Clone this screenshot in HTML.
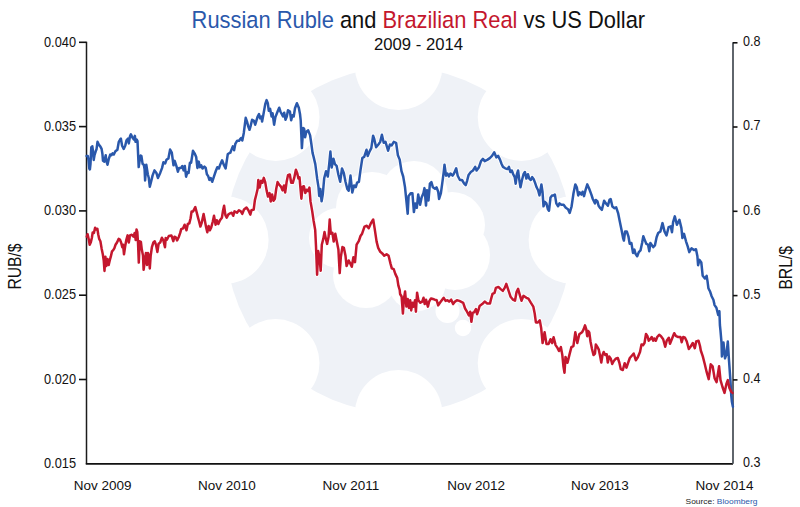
<!DOCTYPE html>
<html><head><meta charset="utf-8"><style>
html,body{margin:0;padding:0;background:#fff;}
svg{display:block;font-family:"Liberation Sans",sans-serif;}
</style></head><body>
<svg width="800" height="507" viewBox="0 0 800 507">
<rect width="800" height="507" fill="#fff"/>
<g id="logo">
<circle cx="398.6" cy="240" r="173" fill="#eff2f7"/>
<circle cx="398.6" cy="66.2" r="43.8" fill="#fff"/><circle cx="521.5" cy="117.1" r="43.8" fill="#fff"/><circle cx="572.4" cy="240.0" r="43.8" fill="#fff"/><circle cx="521.5" cy="362.9" r="43.8" fill="#fff"/><circle cx="398.6" cy="413.8" r="43.8" fill="#fff"/><circle cx="275.7" cy="362.9" r="43.8" fill="#fff"/><circle cx="224.8" cy="240.0" r="43.8" fill="#fff"/><circle cx="275.7" cy="117.1" r="43.8" fill="#fff"/>
<circle cx="339.0" cy="238.0" r="30.0" fill="#fff"/><circle cx="372.0" cy="208.0" r="36.0" fill="#fff"/><circle cx="414.0" cy="195.0" r="34.0" fill="#fff"/><circle cx="452.0" cy="225.0" r="33.0" fill="#fff"/><circle cx="455.0" cy="255.0" r="35.0" fill="#fff"/><circle cx="366.0" cy="275.0" r="33.0" fill="#fff"/><circle cx="417.0" cy="282.0" r="29.0" fill="#fff"/><circle cx="410.0" cy="240.0" r="45.0" fill="#fff"/><circle cx="447.5" cy="311.0" r="12.0" fill="#fff"/><circle cx="463.0" cy="328.0" r="8.2" fill="#fff"/>
</g>
<g fill="none" stroke-linejoin="round" stroke-linecap="round" stroke="#fff" stroke-width="4.5" opacity="0.9">
<path d="M86.6 156.0 L87.8 156.0 L88.5 160.0 L89.3 168.7 L89.9 169.4 L90.5 163.9 L91.3 147.4 L92.3 146.2 L92.9 150.5 L93.7 160.0 L94.5 155.2 L95.7 151.3 L96.5 149.3 L97.5 141.8 L98.8 144.6 L100.4 146.6 L101.6 148.9 L102.4 153.7 L103.0 160.8 L104.3 161.6 L105.7 155.2 L106.3 160.8 L107.5 164.7 L108.7 159.2 L110.3 154.5 L111.5 155.2 L112.6 153.3 L113.8 154.5 L115.4 151.3 L117.4 149.7 L118.8 141.8 L120.1 139.5 L120.9 138.7 L122.1 145.8 L123.7 148.9 L125.3 145.4 L126.5 140.3 L128.0 138.7 L128.8 143.4 L130.0 136.3 L130.9 134.3 L132.4 137.5 L133.9 139.5 L134.9 135.9 L135.5 141.8 L136.7 139.5 L137.5 141.1 L138.7 167.1 L139.5 161.6 L140.7 155.6 L141.4 156.0 L142.6 163.9 L143.8 164.7 L144.6 169.4 L145.1 180.5 L146.3 164.7 L147.8 174.2 L148.8 178.0 L149.8 186.8 L151.4 180.5 L152.6 175.4 L154.5 170.4 L156.4 172.9 L157.9 178.0 L160.2 172.9 L162.1 167.9 L163.4 162.2 L165.2 163.4 L166.5 159.7 L168.4 158.4 L170.1 149.6 L171.8 152.7 L173.5 165.3 L174.7 160.9 L176.6 166.6 L177.9 171.7 L179.1 167.9 L181.0 167.9 L182.3 166.0 L183.6 170.4 L184.8 166.0 L186.1 176.7 L187.3 172.3 L188.6 172.9 L189.9 162.8 L191.1 162.8 L193.0 150.8 L194.9 154.0 L196.2 157.1 L197.4 167.9 L198.7 161.6 L200.0 167.2 L201.2 165.3 L202.5 168.5 L204.4 166.6 L205.7 167.9 L206.9 174.2 L208.2 176.1 L209.4 179.9 L210.7 178.0 L212.2 181.8 L214.5 174.8 L215.8 171.0 L217.3 167.2 L218.9 168.5 L220.2 164.7 L222.1 160.3 L224.0 165.3 L225.6 168.5 L227.8 154.0 L230.3 152.7 L231.5 149.6 L232.8 146.4 L234.1 150.2 L235.3 143.9 L237.2 140.7 L239.1 140.7 L240.1 139.2 L241.3 138.0 L242.3 140.5 L243.8 132.9 L245.7 117.8 L247.0 121.6 L248.3 126.6 L249.5 129.8 L250.8 125.3 L252.1 119.7 L253.9 120.9 L255.2 124.7 L256.5 120.3 L257.7 116.5 L259.0 114.0 L260.2 118.4 L261.5 116.5 L262.1 121.6 L263.4 114.6 L265.3 103.9 L266.6 100.1 L267.8 103.2 L268.8 110.8 L270.1 108.9 L271.6 116.5 L272.6 113.3 L274.1 124.7 L275.4 117.1 L277.9 110.8 L279.2 107.7 L280.4 111.5 L281.7 114.0 L283.0 116.5 L284.2 112.7 L285.5 119.7 L286.8 116.5 L288.0 110.2 L289.9 111.5 L291.2 120.3 L292.4 115.2 L293.7 116.5 L295.0 108.3 L296.9 103.2 L298.8 107.7 L300.0 114.0 L300.7 120.3 L301.9 148.1 L303.2 127.9 L304.2 129.1 L305.1 137.3 L306.3 131.7 L308.2 130.4 L310.1 135.4 L311.4 144.3 L312.6 153.1 L313.6 156.9 L315.3 164.1 L317.1 178.2 L318.5 187.1 L319.2 196.0 L320.3 188.9 L321.6 201.3 L322.8 194.2 L324.2 178.2 L326.0 171.2 L327.8 176.5 L329.2 164.1 L330.4 151.6 L331.7 167.6 L333.4 158.7 L334.9 164.1 L336.6 165.8 L338.4 174.7 L340.2 181.8 L342.0 168.5 L343.8 172.9 L345.5 181.8 L347.3 188.9 L348.7 190.7 L350.5 175.6 L352.3 192.5 L354.1 185.4 L355.8 187.1 L357.1 182.7 L358.9 181.8 L360.6 169.4 L362.4 157.8 L364.2 156.9 L366.5 149.8 L367.7 156.1 L369.5 151.6 L371.3 148.1 L373.1 135.7 L374.3 139.2 L376.1 147.2 L378.4 144.5 L380.2 141.9 L381.9 134.8 L383.7 142.8 L385.5 141.9 L388.1 150.7 L389.9 144.5 L391.7 145.4 L393.8 141.9 L396.1 142.8 L397.9 155.2 L399.7 159.6 L401.5 171.2 L403.2 176.5 L405.0 187.1 L406.8 204.9 L407.7 213.8 L408.6 196.0 L410.0 194.2 L410.9 193.2 L412.4 193.2 L413.9 212.1 L415.3 203.4 L416.8 207.8 L418.2 194.6 L420.1 204.8 L421.6 197.5 L423.4 193.2 L424.5 188.1 L426.0 205.6 L427.0 190.2 L428.5 200.5 L429.9 183.7 L431.4 182.2 L432.9 187.3 L435.0 188.8 L436.5 187.3 L438.2 191.7 L439.1 199.0 L440.9 193.2 L442.3 182.9 L443.8 171.3 L444.5 164.7 L446.0 175.7 L447.4 173.5 L448.9 176.4 L450.4 173.5 L452.6 175.7 L454.0 173.5 L456.2 168.3 L457.7 175.7 L459.9 180.0 L462.0 180.0 L464.2 183.7 L465.7 185.1 L467.1 180.8 L468.6 174.9 L470.8 172.0 L473.0 170.5 L475.2 166.9 L476.6 170.5 L478.8 167.6 L481.0 161.1 L482.9 158.9 L484.7 161.1 L487.6 159.6 L489.8 158.1 L492.0 155.9 L494.2 152.3 L496.4 157.4 L498.1 155.9 L500.0 159.6 L501.6 164.0 L503.0 166.9 L505.2 168.3 L507.4 169.1 L508.9 166.9 L510.3 172.0 L511.8 170.5 L513.2 174.2 L514.7 177.1 L515.7 183.7 L516.9 174.2 L518.1 170.5 L519.1 178.6 L520.5 187.3 L522.0 180.0 L523.5 174.2 L524.9 172.0 L526.4 178.6 L527.9 174.2 L529.3 178.6 L530.8 180.0 L532.2 177.1 L533.7 179.3 L535.1 182.9 L536.6 187.3 L538.1 190.2 L539.5 195.4 L541.4 184.4 L542.5 191.7 L543.5 206.3 L544.9 201.9 L546.4 203.4 L547.9 209.2 L549.0 210.7 L550.5 197.5 L552.2 195.4 L553.7 195.4 L554.9 194.6 L556.3 203.4 L558.1 206.3 L559.5 203.4 L561.4 204.8 L563.6 204.8 L565.8 207.8 L568.0 209.2 L569.7 212.9 L571.6 206.3 L573.5 193.2 L575.3 184.4 L576.8 187.3 L578.2 195.4 L579.7 192.4 L581.4 194.6 L582.6 191.7 L584.0 196.1 L585.5 190.2 L587.3 184.4 L589.2 188.8 L591.4 194.6 L592.8 199.0 L595.0 203.4 L595.8 199.9 L597.5 201.5 L598.6 205.7 L600.3 208.2 L601.9 209.8 L604.1 200.7 L605.7 203.2 L607.9 205.7 L609.5 199.9 L610.7 199.1 L612.4 206.5 L614.5 208.2 L616.2 207.3 L618.1 213.1 L619.8 221.4 L621.5 229.7 L623.1 238.0 L623.9 240.5 L625.1 231.4 L626.8 231.4 L628.4 236.3 L629.7 243.8 L631.4 243.0 L633.0 252.9 L634.4 249.6 L635.5 253.7 L637.2 256.2 L638.8 252.1 L640.5 250.4 L642.1 243.0 L643.3 236.3 L644.6 239.6 L646.3 243.8 L648.0 244.6 L649.3 251.2 L650.4 243.0 L652.1 245.4 L653.2 247.1 L654.9 245.4 L656.6 237.2 L658.2 233.0 L660.4 231.4 L662.5 223.1 L664.5 231.4 L666.5 235.5 L668.6 227.2 L670.8 226.4 L672.0 232.2 L673.1 222.2 L674.8 216.4 L676.9 224.7 L679.4 219.8 L681.4 228.1 L682.4 238.0 L684.0 233.8 L686.0 241.3 L687.7 246.3 L689.3 252.1 L689.8 251.0 L691.5 248.3 L694.2 250.1 L696.0 249.2 L697.4 256.3 L698.1 265.2 L699.5 259.9 L701.3 262.5 L702.7 275.8 L704.9 278.5 L706.6 275.8 L707.5 281.1 L708.4 288.2 L710.2 291.8 L711.6 296.2 L713.4 299.8 L714.6 305.1 L716.4 307.8 L718.2 314.9 L719.4 311.3 L719.9 325.0 L720.5 330.8 L721.5 342.6 L721.9 356.4 L723.5 342.6 L725.0 358.4 L726.4 354.4 L727.8 341.6 L729.0 360.4 L730.4 380.1 L731.3 395.9 L731.9 401.8 L732.9 406.7"/>
<path d="M86.8 236.6 L87.6 234.2 L88.8 239.5 L89.7 244.8 L90.9 241.9 L91.9 237.8 L92.7 232.4 L93.9 233.0 L95.1 227.7 L96.2 229.5 L97.4 228.9 L98.2 234.2 L99.2 238.9 L100.4 241.3 L101.6 248.4 L102.8 254.3 L103.7 260.2 L104.5 270.9 L105.4 256.7 L106.3 266.1 L107.5 259.1 L108.7 265.0 L109.8 260.2 L110.8 256.7 L112.0 251.4 L113.2 250.2 L114.3 248.4 L115.5 244.8 L117.0 242.5 L118.7 238.9 L119.9 239.5 L121.1 242.5 L122.3 247.2 L123.1 244.8 L124.0 254.3 L125.2 246.0 L126.4 239.5 L127.6 235.4 L128.8 242.5 L130.0 235.4 L131.8 234.8 L133.5 236.6 L134.7 233.0 L135.7 240.1 L136.5 229.5 L137.3 231.8 L138.0 242.5 L138.8 262.6 L139.7 241.3 L140.9 241.9 L141.8 249.6 L143.0 255.5 L143.6 269.7 L144.8 261.4 L145.9 253.1 L147.1 265.0 L148.0 253.1 L148.9 255.5 L149.8 268.5 L150.7 255.5 L151.9 247.2 L153.4 242.5 L154.8 241.3 L156.0 244.8 L157.4 251.9 L158.6 243.7 L160.2 242.5 L161.9 237.8 L163.3 240.1 L165.0 247.2 L165.7 237.9 L166.9 239.8 L168.8 236.0 L171.4 235.4 L173.3 241.1 L174.5 236.7 L175.8 237.3 L177.1 240.4 L178.9 236.7 L180.2 232.9 L181.2 229.1 L183.0 228.4 L184.6 224.7 L186.5 230.3 L187.8 224.0 L189.3 223.4 L190.6 218.3 L191.6 211.4 L193.1 211.4 L195.3 207.0 L196.6 212.0 L197.9 217.1 L199.1 221.5 L200.4 226.6 L201.7 222.8 L203.6 213.9 L204.8 220.2 L206.1 227.2 L207.3 232.2 L208.6 225.9 L209.9 230.3 L211.1 227.8 L212.8 221.5 L214.0 215.8 L215.6 224.7 L216.8 220.2 L218.3 224.0 L220.0 220.2 L221.9 217.7 L223.1 210.2 L224.1 205.7 L225.4 215.2 L226.7 217.7 L228.2 214.6 L230.1 213.3 L231.7 212.7 L233.2 215.8 L234.5 211.4 L237.0 212.7 L238.9 210.2 L240.8 211.4 L242.3 213.9 L244.0 209.5 L246.5 207.6 L248.4 210.2 L250.3 214.6 L251.5 210.2 L253.7 209.5 L254.9 200.1 L256.2 195.0 L257.6 189.0 L258.3 180.0 L259.7 187.6 L261.1 180.7 L262.4 182.8 L263.8 177.9 L265.2 182.1 L266.6 190.4 L268.0 196.6 L269.6 193.1 L270.7 201.4 L272.1 194.5 L273.5 200.7 L274.9 198.7 L276.2 189.0 L277.6 182.1 L279.3 184.8 L281.1 186.9 L282.5 190.4 L283.9 185.5 L285.2 192.4 L286.6 182.1 L288.0 175.2 L289.8 174.5 L291.2 182.8 L292.8 182.8 L294.2 177.9 L295.9 169.7 L297.2 173.1 L298.4 178.6 L299.5 177.3 L300.4 187.6 L301.4 198.7 L302.5 186.9 L303.9 186.2 L305.3 193.1 L306.6 189.7 L308.0 191.1 L309.4 187.6 L310.5 201.4 L312.2 211.1 L313.6 220.8 L315.2 230.0 L316.0 246.3 L317.1 274.7 L318.2 251.0 L319.5 257.3 L320.7 270.8 L321.8 244.7 L323.4 238.4 L324.5 232.1 L325.8 238.4 L327.1 243.9 L328.6 236.8 L329.7 219.5 L330.8 233.7 L332.4 232.9 L333.7 241.6 L335.3 233.7 L336.8 241.6 L338.4 249.4 L339.7 273.1 L340.8 257.3 L342.4 247.1 L343.9 247.9 L345.5 255.8 L346.6 266.0 L348.7 260.5 L350.7 264.4 L351.8 266.8 L353.4 257.3 L355.0 262.1 L356.6 244.7 L358.9 240.8 L360.5 236.0 L362.1 233.7 L364.5 226.6 L366.8 225.8 L368.7 228.2 L370.8 223.4 L373.2 219.5 L374.7 228.9 L376.6 241.6 L378.2 247.9 L380.3 251.8 L382.3 253.4 L384.2 255.8 L386.6 254.2 L388.6 255.8 L390.5 263.6 L391.8 268.4 L393.7 269.2 L395.3 273.9 L397.2 277.9 L398.4 285.7 L399.7 290.0 L400.1 294.0 L401.6 296.5 L402.9 313.6 L403.9 299.0 L405.1 291.5 L406.4 306.6 L407.7 299.0 L408.9 307.9 L410.2 300.3 L411.2 310.4 L412.5 302.8 L413.7 306.6 L415.0 300.3 L415.9 311.7 L417.1 292.7 L418.4 300.3 L420.3 302.8 L422.2 301.6 L423.5 297.8 L424.7 304.1 L426.0 299.7 L427.9 306.6 L429.1 301.6 L431.0 298.4 L432.9 299.0 L434.8 299.7 L436.7 300.3 L438.2 305.4 L439.9 302.8 L441.8 300.3 L443.7 297.8 L445.6 300.9 L447.4 300.3 L449.1 301.6 L451.2 299.7 L453.1 304.1 L455.0 301.6 L456.9 300.3 L459.4 300.9 L463.2 302.8 L465.1 308.5 L467.0 311.7 L468.9 315.4 L470.2 311.7 L471.4 321.8 L472.7 312.9 L474.0 312.3 L475.9 309.1 L477.1 314.2 L478.4 310.4 L479.6 306.0 L482.2 304.1 L484.7 301.6 L487.2 303.4 L490.0 303.4 L490.9 299.7 L492.5 293.8 L494.5 292.8 L495.9 287.9 L498.4 286.9 L500.4 288.9 L502.8 290.9 L504.7 287.9 L506.3 283.9 L508.3 289.9 L510.6 296.8 L513.0 299.7 L515.0 300.7 L516.6 291.8 L518.1 288.9 L519.5 293.8 L521.5 300.7 L523.5 295.8 L526.4 297.8 L528.4 298.7 L530.8 302.7 L533.3 306.6 L534.7 313.5 L535.9 322.4 L537.9 322.4 L539.8 320.4 L541.2 328.3 L542.6 343.1 L544.6 332.3 L546.5 344.1 L548.5 344.1 L550.5 339.2 L552.1 343.1 L553.6 337.2 L555.6 345.1 L557.6 348.1 L559.0 351.0 L560.9 347.1 L562.3 354.9 L563.5 366.8 L564.5 372.7 L565.5 356.9 L567.5 362.8 L569.4 354.9 L571.4 347.1 L573.4 346.1 L575.3 332.3 L577.3 343.1 L579.3 334.2 L582.0 332.3 L583.6 329.3 L585.0 325.4 L586.3 329.5 L587.2 336.2 L588.2 331.0 L589.3 332.5 L590.5 341.5 L592.0 349.0 L593.5 355.0 L595.0 353.5 L595.8 344.5 L597.2 346.7 L598.8 349.7 L600.2 356.5 L601.3 362.5 L602.5 355.0 L603.7 352.0 L605.2 355.0 L606.7 354.2 L607.8 362.5 L609.2 356.5 L610.8 358.7 L612.2 364.0 L613.8 361.0 L615.7 358.7 L617.8 358.0 L619.3 362.5 L620.8 369.2 L622.8 370.0 L624.7 363.2 L626.5 367.7 L628.0 363.2 L629.8 358.0 L631.8 355.7 L633.7 353.5 L635.8 360.2 L637.8 357.2 L640.0 352.0 L641.5 344.5 L643.0 345.2 L644.5 343.0 L646.0 334.0 L647.5 336.2 L648.7 340.7 L650.2 339.2 L651.7 337.0 L653.2 340.7 L654.2 338.5 L655.8 340.7 L657.2 337.0 L659.2 334.7 L661.0 336.2 L663.2 339.2 L665.2 346.7 L666.7 340.7 L668.8 337.7 L670.0 343.7 L671.8 339.2 L674.2 333.2 L676.0 336.2 L678.2 337.0 L680.5 337.0 L681.7 342.2 L683.2 337.0 L685.0 337.7 L686.8 341.5 L688.8 349.0 L691.0 346.0 L692.8 343.0 L694.8 348.2 L696.2 341.5 L698.5 340.7 L700.0 346.0 L700.8 350.5 L702.8 356.4 L704.8 364.3 L706.7 372.2 L708.7 379.1 L710.7 364.3 L712.6 366.3 L714.6 378.1 L716.6 382.1 L719.1 366.3 L720.5 380.1 L722.5 387.0 L724.5 392.9 L726.4 384.0 L727.8 380.1 L729.4 388.0 L731.3 391.9 L732.5 392.9"/>
</g>
<g stroke="#111" stroke-width="1.6" fill="none">
<line x1="86.5" y1="41.699999999999996" x2="86.5" y2="463.8" stroke-width="1.5" stroke="#1c1c1c"/>
<line x1="85.75" y1="463.8" x2="733.0" y2="463.8" stroke-width="1.8"/>
<line x1="733.0" y1="42.3" x2="733.0" y2="463.8" stroke="#4e555c" stroke-width="1.8"/>
<line x1="79" y1="42.3" x2="86.5" y2="42.3"/><line x1="79" y1="126.6" x2="86.5" y2="126.6"/><line x1="79" y1="210.9" x2="86.5" y2="210.9"/><line x1="79" y1="295.2" x2="86.5" y2="295.2"/><line x1="79" y1="379.5" x2="86.5" y2="379.5"/>
<line x1="733.0" y1="42.8" x2="737.5" y2="42.8"/><line x1="733.0" y1="127.0" x2="737.5" y2="127.0"/><line x1="733.0" y1="211.3" x2="737.5" y2="211.3"/><line x1="733.0" y1="295.6" x2="737.5" y2="295.6"/><line x1="733.0" y1="379.9" x2="737.5" y2="379.9"/>
</g>
<g fill="none" stroke-linejoin="round" stroke-linecap="round" stroke-width="2.5">
<path d="M86.6 156.0 L87.8 156.0 L88.5 160.0 L89.3 168.7 L89.9 169.4 L90.5 163.9 L91.3 147.4 L92.3 146.2 L92.9 150.5 L93.7 160.0 L94.5 155.2 L95.7 151.3 L96.5 149.3 L97.5 141.8 L98.8 144.6 L100.4 146.6 L101.6 148.9 L102.4 153.7 L103.0 160.8 L104.3 161.6 L105.7 155.2 L106.3 160.8 L107.5 164.7 L108.7 159.2 L110.3 154.5 L111.5 155.2 L112.6 153.3 L113.8 154.5 L115.4 151.3 L117.4 149.7 L118.8 141.8 L120.1 139.5 L120.9 138.7 L122.1 145.8 L123.7 148.9 L125.3 145.4 L126.5 140.3 L128.0 138.7 L128.8 143.4 L130.0 136.3 L130.9 134.3 L132.4 137.5 L133.9 139.5 L134.9 135.9 L135.5 141.8 L136.7 139.5 L137.5 141.1 L138.7 167.1 L139.5 161.6 L140.7 155.6 L141.4 156.0 L142.6 163.9 L143.8 164.7 L144.6 169.4 L145.1 180.5 L146.3 164.7 L147.8 174.2 L148.8 178.0 L149.8 186.8 L151.4 180.5 L152.6 175.4 L154.5 170.4 L156.4 172.9 L157.9 178.0 L160.2 172.9 L162.1 167.9 L163.4 162.2 L165.2 163.4 L166.5 159.7 L168.4 158.4 L170.1 149.6 L171.8 152.7 L173.5 165.3 L174.7 160.9 L176.6 166.6 L177.9 171.7 L179.1 167.9 L181.0 167.9 L182.3 166.0 L183.6 170.4 L184.8 166.0 L186.1 176.7 L187.3 172.3 L188.6 172.9 L189.9 162.8 L191.1 162.8 L193.0 150.8 L194.9 154.0 L196.2 157.1 L197.4 167.9 L198.7 161.6 L200.0 167.2 L201.2 165.3 L202.5 168.5 L204.4 166.6 L205.7 167.9 L206.9 174.2 L208.2 176.1 L209.4 179.9 L210.7 178.0 L212.2 181.8 L214.5 174.8 L215.8 171.0 L217.3 167.2 L218.9 168.5 L220.2 164.7 L222.1 160.3 L224.0 165.3 L225.6 168.5 L227.8 154.0 L230.3 152.7 L231.5 149.6 L232.8 146.4 L234.1 150.2 L235.3 143.9 L237.2 140.7 L239.1 140.7 L240.1 139.2 L241.3 138.0 L242.3 140.5 L243.8 132.9 L245.7 117.8 L247.0 121.6 L248.3 126.6 L249.5 129.8 L250.8 125.3 L252.1 119.7 L253.9 120.9 L255.2 124.7 L256.5 120.3 L257.7 116.5 L259.0 114.0 L260.2 118.4 L261.5 116.5 L262.1 121.6 L263.4 114.6 L265.3 103.9 L266.6 100.1 L267.8 103.2 L268.8 110.8 L270.1 108.9 L271.6 116.5 L272.6 113.3 L274.1 124.7 L275.4 117.1 L277.9 110.8 L279.2 107.7 L280.4 111.5 L281.7 114.0 L283.0 116.5 L284.2 112.7 L285.5 119.7 L286.8 116.5 L288.0 110.2 L289.9 111.5 L291.2 120.3 L292.4 115.2 L293.7 116.5 L295.0 108.3 L296.9 103.2 L298.8 107.7 L300.0 114.0 L300.7 120.3 L301.9 148.1 L303.2 127.9 L304.2 129.1 L305.1 137.3 L306.3 131.7 L308.2 130.4 L310.1 135.4 L311.4 144.3 L312.6 153.1 L313.6 156.9 L315.3 164.1 L317.1 178.2 L318.5 187.1 L319.2 196.0 L320.3 188.9 L321.6 201.3 L322.8 194.2 L324.2 178.2 L326.0 171.2 L327.8 176.5 L329.2 164.1 L330.4 151.6 L331.7 167.6 L333.4 158.7 L334.9 164.1 L336.6 165.8 L338.4 174.7 L340.2 181.8 L342.0 168.5 L343.8 172.9 L345.5 181.8 L347.3 188.9 L348.7 190.7 L350.5 175.6 L352.3 192.5 L354.1 185.4 L355.8 187.1 L357.1 182.7 L358.9 181.8 L360.6 169.4 L362.4 157.8 L364.2 156.9 L366.5 149.8 L367.7 156.1 L369.5 151.6 L371.3 148.1 L373.1 135.7 L374.3 139.2 L376.1 147.2 L378.4 144.5 L380.2 141.9 L381.9 134.8 L383.7 142.8 L385.5 141.9 L388.1 150.7 L389.9 144.5 L391.7 145.4 L393.8 141.9 L396.1 142.8 L397.9 155.2 L399.7 159.6 L401.5 171.2 L403.2 176.5 L405.0 187.1 L406.8 204.9 L407.7 213.8 L408.6 196.0 L410.0 194.2 L410.9 193.2 L412.4 193.2 L413.9 212.1 L415.3 203.4 L416.8 207.8 L418.2 194.6 L420.1 204.8 L421.6 197.5 L423.4 193.2 L424.5 188.1 L426.0 205.6 L427.0 190.2 L428.5 200.5 L429.9 183.7 L431.4 182.2 L432.9 187.3 L435.0 188.8 L436.5 187.3 L438.2 191.7 L439.1 199.0 L440.9 193.2 L442.3 182.9 L443.8 171.3 L444.5 164.7 L446.0 175.7 L447.4 173.5 L448.9 176.4 L450.4 173.5 L452.6 175.7 L454.0 173.5 L456.2 168.3 L457.7 175.7 L459.9 180.0 L462.0 180.0 L464.2 183.7 L465.7 185.1 L467.1 180.8 L468.6 174.9 L470.8 172.0 L473.0 170.5 L475.2 166.9 L476.6 170.5 L478.8 167.6 L481.0 161.1 L482.9 158.9 L484.7 161.1 L487.6 159.6 L489.8 158.1 L492.0 155.9 L494.2 152.3 L496.4 157.4 L498.1 155.9 L500.0 159.6 L501.6 164.0 L503.0 166.9 L505.2 168.3 L507.4 169.1 L508.9 166.9 L510.3 172.0 L511.8 170.5 L513.2 174.2 L514.7 177.1 L515.7 183.7 L516.9 174.2 L518.1 170.5 L519.1 178.6 L520.5 187.3 L522.0 180.0 L523.5 174.2 L524.9 172.0 L526.4 178.6 L527.9 174.2 L529.3 178.6 L530.8 180.0 L532.2 177.1 L533.7 179.3 L535.1 182.9 L536.6 187.3 L538.1 190.2 L539.5 195.4 L541.4 184.4 L542.5 191.7 L543.5 206.3 L544.9 201.9 L546.4 203.4 L547.9 209.2 L549.0 210.7 L550.5 197.5 L552.2 195.4 L553.7 195.4 L554.9 194.6 L556.3 203.4 L558.1 206.3 L559.5 203.4 L561.4 204.8 L563.6 204.8 L565.8 207.8 L568.0 209.2 L569.7 212.9 L571.6 206.3 L573.5 193.2 L575.3 184.4 L576.8 187.3 L578.2 195.4 L579.7 192.4 L581.4 194.6 L582.6 191.7 L584.0 196.1 L585.5 190.2 L587.3 184.4 L589.2 188.8 L591.4 194.6 L592.8 199.0 L595.0 203.4 L595.8 199.9 L597.5 201.5 L598.6 205.7 L600.3 208.2 L601.9 209.8 L604.1 200.7 L605.7 203.2 L607.9 205.7 L609.5 199.9 L610.7 199.1 L612.4 206.5 L614.5 208.2 L616.2 207.3 L618.1 213.1 L619.8 221.4 L621.5 229.7 L623.1 238.0 L623.9 240.5 L625.1 231.4 L626.8 231.4 L628.4 236.3 L629.7 243.8 L631.4 243.0 L633.0 252.9 L634.4 249.6 L635.5 253.7 L637.2 256.2 L638.8 252.1 L640.5 250.4 L642.1 243.0 L643.3 236.3 L644.6 239.6 L646.3 243.8 L648.0 244.6 L649.3 251.2 L650.4 243.0 L652.1 245.4 L653.2 247.1 L654.9 245.4 L656.6 237.2 L658.2 233.0 L660.4 231.4 L662.5 223.1 L664.5 231.4 L666.5 235.5 L668.6 227.2 L670.8 226.4 L672.0 232.2 L673.1 222.2 L674.8 216.4 L676.9 224.7 L679.4 219.8 L681.4 228.1 L682.4 238.0 L684.0 233.8 L686.0 241.3 L687.7 246.3 L689.3 252.1 L689.8 251.0 L691.5 248.3 L694.2 250.1 L696.0 249.2 L697.4 256.3 L698.1 265.2 L699.5 259.9 L701.3 262.5 L702.7 275.8 L704.9 278.5 L706.6 275.8 L707.5 281.1 L708.4 288.2 L710.2 291.8 L711.6 296.2 L713.4 299.8 L714.6 305.1 L716.4 307.8 L718.2 314.9 L719.4 311.3 L719.9 325.0 L720.5 330.8 L721.5 342.6 L721.9 356.4 L723.5 342.6 L725.0 358.4 L726.4 354.4 L727.8 341.6 L729.0 360.4 L730.4 380.1 L731.3 395.9 L731.9 401.8 L732.9 406.7" stroke="#2a58ab"/>
<path d="M86.8 236.6 L87.6 234.2 L88.8 239.5 L89.7 244.8 L90.9 241.9 L91.9 237.8 L92.7 232.4 L93.9 233.0 L95.1 227.7 L96.2 229.5 L97.4 228.9 L98.2 234.2 L99.2 238.9 L100.4 241.3 L101.6 248.4 L102.8 254.3 L103.7 260.2 L104.5 270.9 L105.4 256.7 L106.3 266.1 L107.5 259.1 L108.7 265.0 L109.8 260.2 L110.8 256.7 L112.0 251.4 L113.2 250.2 L114.3 248.4 L115.5 244.8 L117.0 242.5 L118.7 238.9 L119.9 239.5 L121.1 242.5 L122.3 247.2 L123.1 244.8 L124.0 254.3 L125.2 246.0 L126.4 239.5 L127.6 235.4 L128.8 242.5 L130.0 235.4 L131.8 234.8 L133.5 236.6 L134.7 233.0 L135.7 240.1 L136.5 229.5 L137.3 231.8 L138.0 242.5 L138.8 262.6 L139.7 241.3 L140.9 241.9 L141.8 249.6 L143.0 255.5 L143.6 269.7 L144.8 261.4 L145.9 253.1 L147.1 265.0 L148.0 253.1 L148.9 255.5 L149.8 268.5 L150.7 255.5 L151.9 247.2 L153.4 242.5 L154.8 241.3 L156.0 244.8 L157.4 251.9 L158.6 243.7 L160.2 242.5 L161.9 237.8 L163.3 240.1 L165.0 247.2 L165.7 237.9 L166.9 239.8 L168.8 236.0 L171.4 235.4 L173.3 241.1 L174.5 236.7 L175.8 237.3 L177.1 240.4 L178.9 236.7 L180.2 232.9 L181.2 229.1 L183.0 228.4 L184.6 224.7 L186.5 230.3 L187.8 224.0 L189.3 223.4 L190.6 218.3 L191.6 211.4 L193.1 211.4 L195.3 207.0 L196.6 212.0 L197.9 217.1 L199.1 221.5 L200.4 226.6 L201.7 222.8 L203.6 213.9 L204.8 220.2 L206.1 227.2 L207.3 232.2 L208.6 225.9 L209.9 230.3 L211.1 227.8 L212.8 221.5 L214.0 215.8 L215.6 224.7 L216.8 220.2 L218.3 224.0 L220.0 220.2 L221.9 217.7 L223.1 210.2 L224.1 205.7 L225.4 215.2 L226.7 217.7 L228.2 214.6 L230.1 213.3 L231.7 212.7 L233.2 215.8 L234.5 211.4 L237.0 212.7 L238.9 210.2 L240.8 211.4 L242.3 213.9 L244.0 209.5 L246.5 207.6 L248.4 210.2 L250.3 214.6 L251.5 210.2 L253.7 209.5 L254.9 200.1 L256.2 195.0 L257.6 189.0 L258.3 180.0 L259.7 187.6 L261.1 180.7 L262.4 182.8 L263.8 177.9 L265.2 182.1 L266.6 190.4 L268.0 196.6 L269.6 193.1 L270.7 201.4 L272.1 194.5 L273.5 200.7 L274.9 198.7 L276.2 189.0 L277.6 182.1 L279.3 184.8 L281.1 186.9 L282.5 190.4 L283.9 185.5 L285.2 192.4 L286.6 182.1 L288.0 175.2 L289.8 174.5 L291.2 182.8 L292.8 182.8 L294.2 177.9 L295.9 169.7 L297.2 173.1 L298.4 178.6 L299.5 177.3 L300.4 187.6 L301.4 198.7 L302.5 186.9 L303.9 186.2 L305.3 193.1 L306.6 189.7 L308.0 191.1 L309.4 187.6 L310.5 201.4 L312.2 211.1 L313.6 220.8 L315.2 230.0 L316.0 246.3 L317.1 274.7 L318.2 251.0 L319.5 257.3 L320.7 270.8 L321.8 244.7 L323.4 238.4 L324.5 232.1 L325.8 238.4 L327.1 243.9 L328.6 236.8 L329.7 219.5 L330.8 233.7 L332.4 232.9 L333.7 241.6 L335.3 233.7 L336.8 241.6 L338.4 249.4 L339.7 273.1 L340.8 257.3 L342.4 247.1 L343.9 247.9 L345.5 255.8 L346.6 266.0 L348.7 260.5 L350.7 264.4 L351.8 266.8 L353.4 257.3 L355.0 262.1 L356.6 244.7 L358.9 240.8 L360.5 236.0 L362.1 233.7 L364.5 226.6 L366.8 225.8 L368.7 228.2 L370.8 223.4 L373.2 219.5 L374.7 228.9 L376.6 241.6 L378.2 247.9 L380.3 251.8 L382.3 253.4 L384.2 255.8 L386.6 254.2 L388.6 255.8 L390.5 263.6 L391.8 268.4 L393.7 269.2 L395.3 273.9 L397.2 277.9 L398.4 285.7 L399.7 290.0 L400.1 294.0 L401.6 296.5 L402.9 313.6 L403.9 299.0 L405.1 291.5 L406.4 306.6 L407.7 299.0 L408.9 307.9 L410.2 300.3 L411.2 310.4 L412.5 302.8 L413.7 306.6 L415.0 300.3 L415.9 311.7 L417.1 292.7 L418.4 300.3 L420.3 302.8 L422.2 301.6 L423.5 297.8 L424.7 304.1 L426.0 299.7 L427.9 306.6 L429.1 301.6 L431.0 298.4 L432.9 299.0 L434.8 299.7 L436.7 300.3 L438.2 305.4 L439.9 302.8 L441.8 300.3 L443.7 297.8 L445.6 300.9 L447.4 300.3 L449.1 301.6 L451.2 299.7 L453.1 304.1 L455.0 301.6 L456.9 300.3 L459.4 300.9 L463.2 302.8 L465.1 308.5 L467.0 311.7 L468.9 315.4 L470.2 311.7 L471.4 321.8 L472.7 312.9 L474.0 312.3 L475.9 309.1 L477.1 314.2 L478.4 310.4 L479.6 306.0 L482.2 304.1 L484.7 301.6 L487.2 303.4 L490.0 303.4 L490.9 299.7 L492.5 293.8 L494.5 292.8 L495.9 287.9 L498.4 286.9 L500.4 288.9 L502.8 290.9 L504.7 287.9 L506.3 283.9 L508.3 289.9 L510.6 296.8 L513.0 299.7 L515.0 300.7 L516.6 291.8 L518.1 288.9 L519.5 293.8 L521.5 300.7 L523.5 295.8 L526.4 297.8 L528.4 298.7 L530.8 302.7 L533.3 306.6 L534.7 313.5 L535.9 322.4 L537.9 322.4 L539.8 320.4 L541.2 328.3 L542.6 343.1 L544.6 332.3 L546.5 344.1 L548.5 344.1 L550.5 339.2 L552.1 343.1 L553.6 337.2 L555.6 345.1 L557.6 348.1 L559.0 351.0 L560.9 347.1 L562.3 354.9 L563.5 366.8 L564.5 372.7 L565.5 356.9 L567.5 362.8 L569.4 354.9 L571.4 347.1 L573.4 346.1 L575.3 332.3 L577.3 343.1 L579.3 334.2 L582.0 332.3 L583.6 329.3 L585.0 325.4 L586.3 329.5 L587.2 336.2 L588.2 331.0 L589.3 332.5 L590.5 341.5 L592.0 349.0 L593.5 355.0 L595.0 353.5 L595.8 344.5 L597.2 346.7 L598.8 349.7 L600.2 356.5 L601.3 362.5 L602.5 355.0 L603.7 352.0 L605.2 355.0 L606.7 354.2 L607.8 362.5 L609.2 356.5 L610.8 358.7 L612.2 364.0 L613.8 361.0 L615.7 358.7 L617.8 358.0 L619.3 362.5 L620.8 369.2 L622.8 370.0 L624.7 363.2 L626.5 367.7 L628.0 363.2 L629.8 358.0 L631.8 355.7 L633.7 353.5 L635.8 360.2 L637.8 357.2 L640.0 352.0 L641.5 344.5 L643.0 345.2 L644.5 343.0 L646.0 334.0 L647.5 336.2 L648.7 340.7 L650.2 339.2 L651.7 337.0 L653.2 340.7 L654.2 338.5 L655.8 340.7 L657.2 337.0 L659.2 334.7 L661.0 336.2 L663.2 339.2 L665.2 346.7 L666.7 340.7 L668.8 337.7 L670.0 343.7 L671.8 339.2 L674.2 333.2 L676.0 336.2 L678.2 337.0 L680.5 337.0 L681.7 342.2 L683.2 337.0 L685.0 337.7 L686.8 341.5 L688.8 349.0 L691.0 346.0 L692.8 343.0 L694.8 348.2 L696.2 341.5 L698.5 340.7 L700.0 346.0 L700.8 350.5 L702.8 356.4 L704.8 364.3 L706.7 372.2 L708.7 379.1 L710.7 364.3 L712.6 366.3 L714.6 378.1 L716.6 382.1 L719.1 366.3 L720.5 380.1 L722.5 387.0 L724.5 392.9 L726.4 384.0 L727.8 380.1 L729.4 388.0 L731.3 391.9 L732.5 392.9" stroke="#c4172e"/>
</g>
<g font-size="13.5" fill="#111">
<text x="44" y="46.5" font-size="14" textLength="32" lengthAdjust="spacingAndGlyphs">0.040</text><text x="44" y="130.8" font-size="14" textLength="32" lengthAdjust="spacingAndGlyphs">0.035</text><text x="44" y="215.1" font-size="14" textLength="32" lengthAdjust="spacingAndGlyphs">0.030</text><text x="44" y="299.4" font-size="14" textLength="32" lengthAdjust="spacingAndGlyphs">0.025</text><text x="44" y="383.7" font-size="14" textLength="32" lengthAdjust="spacingAndGlyphs">0.020</text><text x="44" y="468.0" font-size="14" textLength="32" lengthAdjust="spacingAndGlyphs">0.015</text>
<text x="743" y="45.9" font-size="14" textLength="17.5" lengthAdjust="spacingAndGlyphs">0.8</text><text x="743" y="130.2" font-size="14" textLength="17.5" lengthAdjust="spacingAndGlyphs">0.7</text><text x="743" y="214.5" font-size="14" textLength="17.5" lengthAdjust="spacingAndGlyphs">0.6</text><text x="743" y="298.8" font-size="14" textLength="17.5" lengthAdjust="spacingAndGlyphs">0.5</text><text x="743" y="383.1" font-size="14" textLength="17.5" lengthAdjust="spacingAndGlyphs">0.4</text><text x="743" y="467.4" font-size="14" textLength="17.5" lengthAdjust="spacingAndGlyphs">0.3</text>
<text x="102.7" y="490.3" text-anchor="middle">Nov 2009</text><text x="226.8" y="490.3" text-anchor="middle">Nov 2010</text><text x="350.8" y="490.3" text-anchor="middle">Nov 2011</text><text x="476.1" y="490.3" text-anchor="middle">Nov 2012</text><text x="599.8" y="490.3" text-anchor="middle">Nov 2013</text><text x="724.5" y="490.3" text-anchor="middle">Nov 2014</text>
</g>
<text x="191.6" y="27.9" font-size="23.7" textLength="453.5" lengthAdjust="spacingAndGlyphs"><tspan fill="#2a58ab">Russian Ruble</tspan><tspan fill="#111"> and </tspan><tspan fill="#c4172e">Brazilian Real</tspan><tspan fill="#111"> vs US Dollar</tspan></text>
<text x="374" y="50.3" font-size="16.5" fill="#111" textLength="89" lengthAdjust="spacingAndGlyphs">2009 - 2014</text>
<text transform="translate(20.8 289.6) rotate(-90)" font-size="17.6" fill="#111" textLength="46" lengthAdjust="spacingAndGlyphs">RUB/$</text>
<text transform="translate(792.0 289.6) rotate(-90)" font-size="17.8" fill="#111" textLength="43.5" lengthAdjust="spacingAndGlyphs">BRL/$</text>
<text x="685.6" y="504" font-size="7.6" textLength="71.9" lengthAdjust="spacingAndGlyphs"><tspan fill="#222">Source: </tspan><tspan fill="#2a58ab">Bloomberg</tspan></text>
</svg>
</body></html>
